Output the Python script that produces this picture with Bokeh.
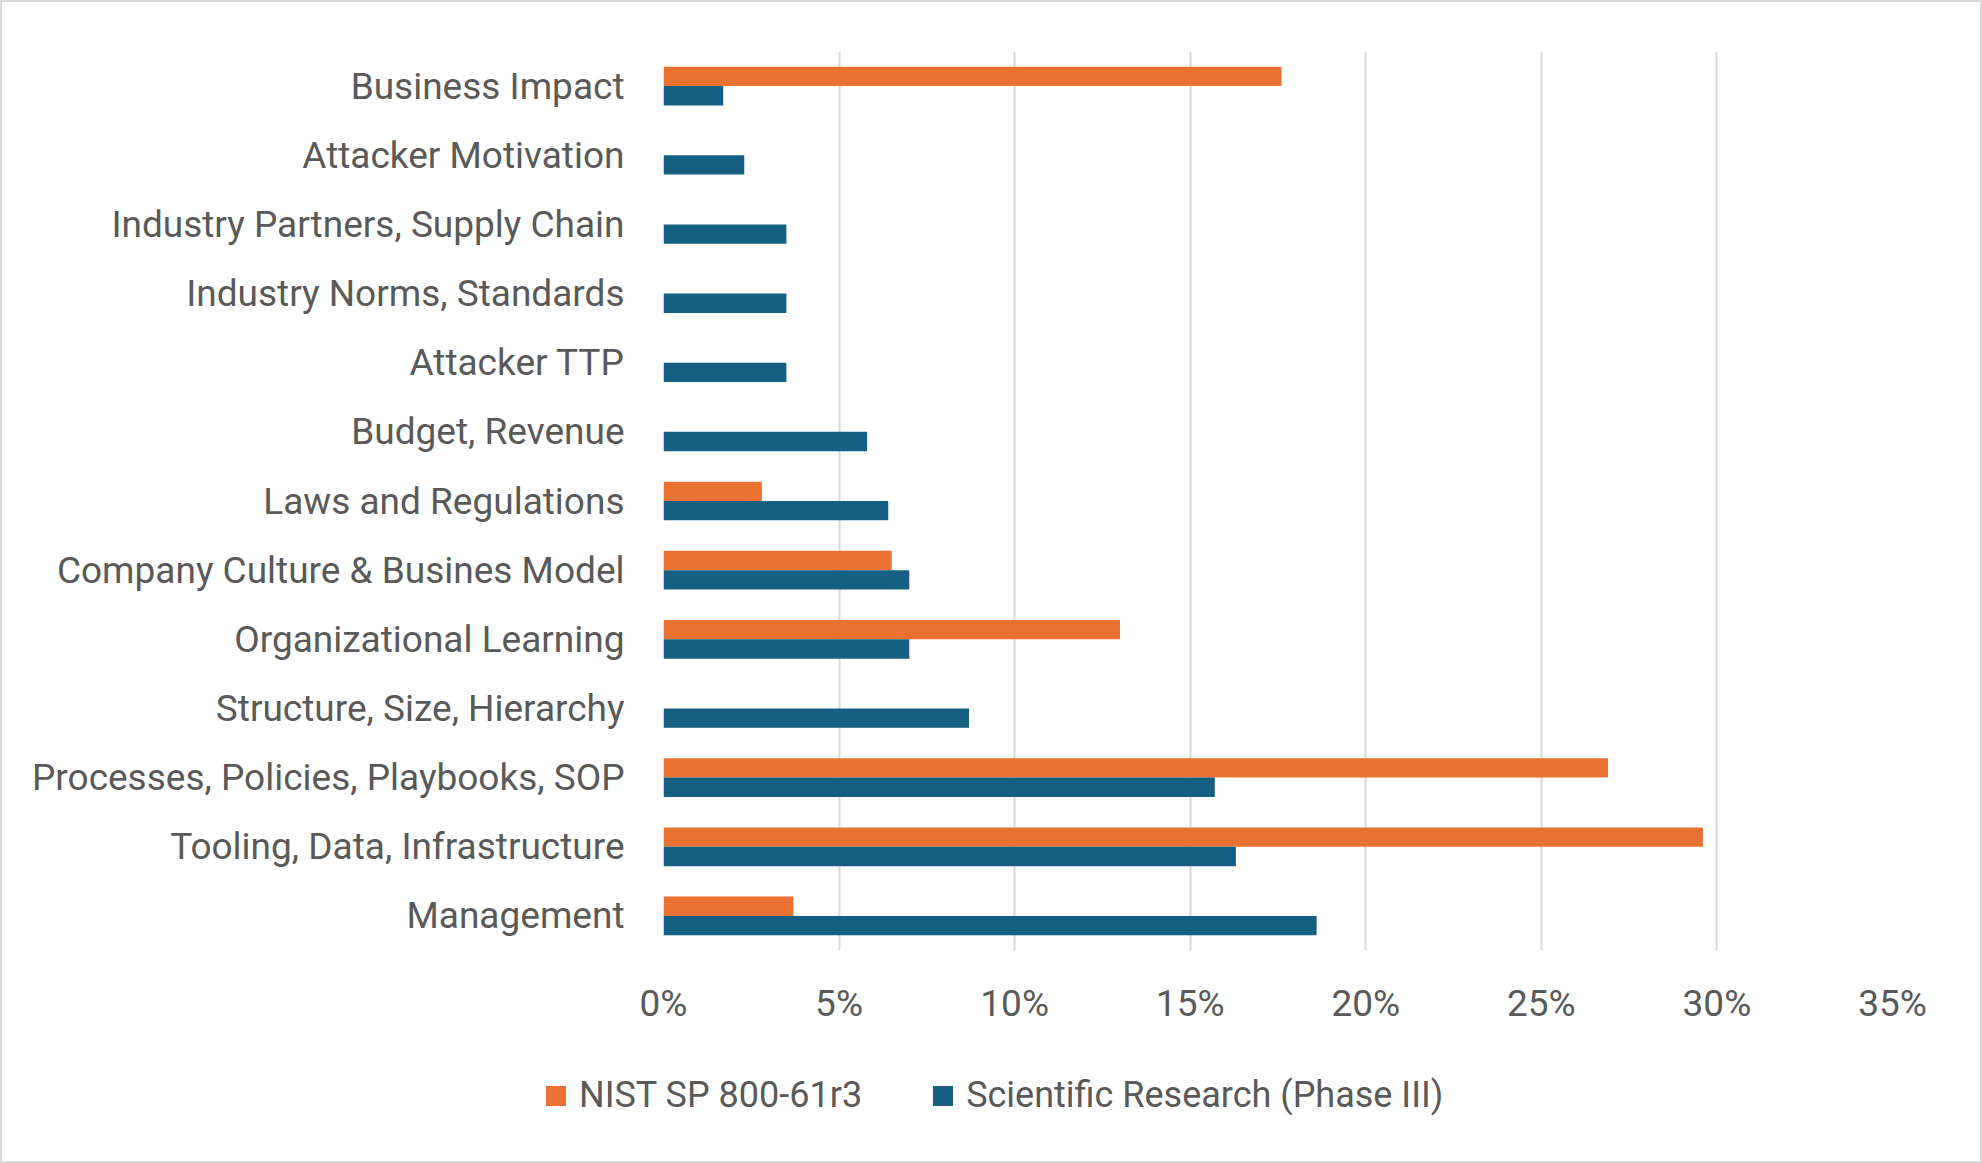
from bokeh.plotting import figure
from bokeh.models import ColumnDataSource, FactorRange, FixedTicker, NumeralTickFormatter, Legend, LegendItem, Column
from bokeh.transform import dodge
from bokeh.embed import file_html
from bokeh.resources import INLINE

categories = [
    "Management",
    "Tooling, Data, Infrastructure",
    "Processes, Policies, Playbooks, SOP",
    "Structure, Size, Hierarchy",
    "Organizational Learning",
    "Company Culture & Busines Model",
    "Laws and Regulations",
    "Budget, Revenue",
    "Attacker TTP",
    "Industry Norms, Standards",
    "Industry Partners, Supply Chain",
    "Attacker Motivation",
    "Business Impact",
]
nist = [0.037, 0.296, 0.269, 0.0, 0.130, 0.065, 0.028, 0.0, 0.0, 0.0, 0.0, 0.0, 0.176]
scientific = [0.186, 0.163, 0.157, 0.087, 0.070, 0.070, 0.064, 0.058, 0.035, 0.035, 0.035, 0.023, 0.017]
series_names = ["NIST SP 800-61r3", "Scientific Research (Phase III)"]
x_ticks = [0, 0.05, 0.10, 0.15, 0.20, 0.25, 0.30, 0.35]

ORANGE = "#E97132"
BLUE = "#156082"
TEXT = "#595959"
FONT = "Roboto"
FS = "37px"

src = ColumnDataSource(dict(cat=categories, nist=nist, sci=scientific))

W = 1978
H1 = 1048
H2 = 1159 - H1
p = figure(width=W, height=H1, output_backend="svg", toolbar_location=None,
           y_range=FactorRange(*categories, range_padding=0), x_range=(0, 0.35),
           min_border_left=661, min_border_right=88, min_border_top=49, min_border_bottom=100)
p.outline_line_color = None
p.background_fill_color = "white"
p.border_fill_color = "white"

p.hbar(y=dodge("cat", 0.14, range=p.y_range), right="nist", left=0, height=0.28,
       source=src, fill_color=ORANGE, line_color=None)
p.hbar(y=dodge("cat", -0.14, range=p.y_range), right="sci", left=0, height=0.28,
       source=src, fill_color=BLUE, line_color=None)

p.xaxis.ticker = FixedTicker(ticks=x_ticks)
p.xaxis.formatter = NumeralTickFormatter(format="0%")
for ax in (p.xaxis[0], p.yaxis[0]):
    ax.axis_line_color = None
    ax.major_tick_line_color = None
    ax.minor_tick_line_color = None
    ax.major_label_text_color = TEXT
    ax.major_label_text_font = FONT
    ax.major_label_text_font_size = FS
p.xaxis.major_label_standoff = 25
p.yaxis.major_label_standoff = 33

p.xgrid.grid_line_color = "#d9d9d9"
p.xgrid.grid_line_width = 2
p.ygrid.grid_line_color = None

# legend strip
lf = figure(width=W, height=H2, output_backend="svg", toolbar_location=None,
            x_range=(0, 1), y_range=(0, 1), min_border=0,
            x_axis_location=None, y_axis_location=None)
lf.frame_align = False
lf.outline_line_color = None
lf.grid.grid_line_color = None
lf.background_fill_color = "white"
lf.border_fill_color = "white"
hidden = ColumnDataSource(dict(x=[-10], y=[-10]))
g1 = lf.rect(x="x", y="y", width=0.1, height=0.1, source=hidden, fill_color=ORANGE, line_color=None)
g2 = lf.rect(x="x", y="y", width=0.1, height=0.1, source=hidden, fill_color=BLUE, line_color=None)

legend = Legend(items=[LegendItem(label=series_names[0], renderers=[g1]),
                       LegendItem(label=series_names[1], renderers=[g2])],
                orientation="horizontal", location=(541, 45),
                glyph_width=25, glyph_height=25, label_standoff=11, spacing=68,
                padding=0, margin=0, border_line_color=None, background_fill_alpha=0,
                label_text_font=FONT, label_text_font_size="36px", label_text_color=TEXT)
lf.add_layout(legend, "center")

layout = Column(children=[p, lf], spacing=0)
layout.styles = {"border": "2px solid #d9d9d9", "background-color": "white"}

open("out.html", "w").write(file_html(layout, INLINE))
